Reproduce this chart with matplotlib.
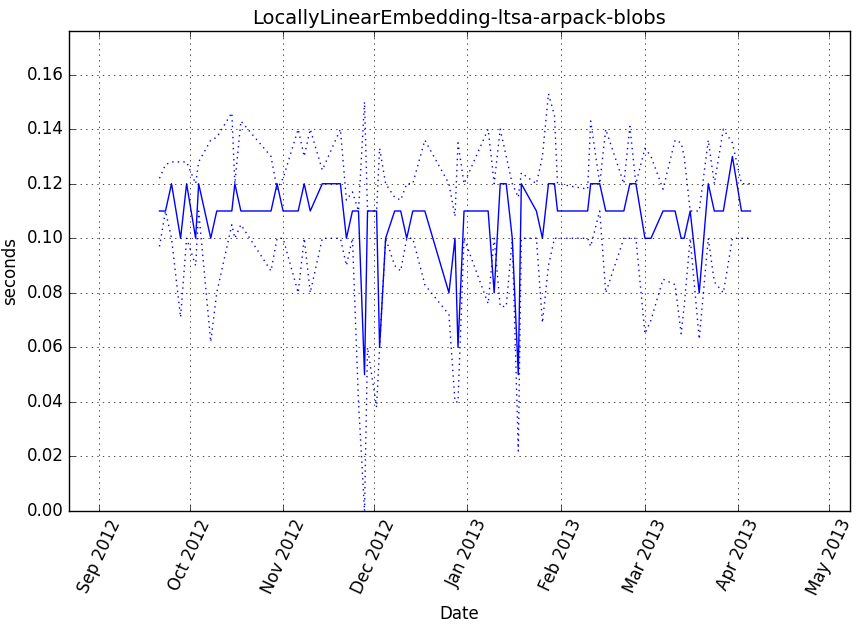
import matplotlib
matplotlib.use("Agg")
import matplotlib.pyplot as plt
import matplotlib.dates as mdates
import numpy as np
from datetime import datetime, timedelta

dates = ["2012-09-21","2012-09-23","2012-09-25","2012-09-28","2012-09-30",
 "2012-10-03","2012-10-04","2012-10-08","2012-10-10","2012-10-15","2012-10-16","2012-10-18","2012-10-28","2012-10-30",
 "2012-11-01","2012-11-06","2012-11-08","2012-11-10","2012-11-14","2012-11-20","2012-11-22","2012-11-24","2012-11-26","2012-11-28","2012-11-29",
 "2012-12-02","2012-12-03","2012-12-05","2012-12-08","2012-12-10","2012-12-12","2012-12-14","2012-12-18","2012-12-26","2012-12-28","2012-12-29","2012-12-31",
 "2013-01-08","2013-01-10","2013-01-12","2013-01-14","2013-01-16","2013-01-18","2013-01-19","2013-01-24","2013-01-26","2013-01-28","2013-01-30","2013-01-31",
 "2013-02-10","2013-02-11","2013-02-14","2013-02-16","2013-02-22","2013-02-24","2013-02-26",
 "2013-03-01","2013-03-03","2013-03-07","2013-03-11","2013-03-13","2013-03-14","2013-03-16","2013-03-19","2013-03-22","2013-03-24","2013-03-27","2013-03-30",
 "2013-04-02","2013-04-05"]
median = [0.11,0.11,0.12,0.10,0.12,0.10,0.12,0.10,0.11,0.11,
 0.12,0.11,0.11,0.12,0.11,0.11,0.12,0.11,0.12,0.12,
 0.10,0.11,0.11,0.05,0.11,0.11,0.06,0.10,0.11,0.11,
 0.10,0.11,0.11,0.08,0.10,0.06,0.11,0.11,0.08,0.12,
 0.12,0.10,0.05,0.12,0.11,0.10,0.12,0.12,0.11,0.11,
 0.12,0.12,0.11,0.11,0.12,0.12,0.10,0.10,0.11,0.11,
 0.10,0.10,0.11,0.08,0.12,0.11,0.11,0.13,0.11,0.11]
upper = [0.122,0.127,0.128,0.128,0.128,0.120,0.128,0.136,0.137,0.146,
 0.120,0.143,0.130,0.118,0.122,0.140,0.130,0.140,0.125,0.140,
 0.114,0.117,0.110,0.150,0.110,0.110,0.133,0.120,0.115,0.114,
 0.120,0.120,0.136,0.120,0.108,0.135,0.120,0.140,0.120,0.140,
 0.130,0.120,0.115,0.124,0.120,0.130,0.153,0.145,0.120,0.118,
 0.143,0.120,0.140,0.120,0.141,0.120,0.133,0.130,0.118,0.136,
 0.135,0.130,0.110,0.110,0.136,0.120,0.140,0.135,0.120,0.120]
lower = [0.097,0.110,0.100,0.071,0.100,0.090,0.110,0.062,0.080,0.105,
 0.100,0.105,0.088,0.100,0.100,0.080,0.100,0.080,0.100,0.100,
 0.090,0.100,0.040,0.000,0.060,0.038,0.060,0.100,0.090,0.088,
 0.100,0.100,0.083,0.072,0.040,0.040,0.100,0.076,0.100,0.075,
 0.075,0.100,0.022,0.100,0.100,0.069,0.090,0.100,0.100,0.100,
 0.097,0.110,0.080,0.100,0.100,0.100,0.065,0.070,0.085,0.083,
 0.065,0.075,0.100,0.063,0.100,0.084,0.080,0.100,0.100,0.100]

plt.style.use("classic")
x = [datetime.strptime(d, "%Y-%m-%d") for d in dates]
fig = plt.figure(figsize=(8.65, 6.26), dpi=100, facecolor="white")
ax = fig.add_axes([69/865, 1-511/626, (850-69)/865, (511-31)/626])
ax.plot(x, median, "b-")
ax.plot(x, upper, "b:")
ax.plot(x, lower, "b:")
ax.set_xlim(datetime(2012, 8, 22), datetime(2013, 5, 8))
ax.set_ylim(0, 0.176)
ax.set_yticks(np.arange(0, 0.17, 0.02))
ax.xaxis.set_major_locator(mdates.MonthLocator())
ax.xaxis.set_major_formatter(mdates.DateFormatter("%b %Y"))
for lab in ax.get_xticklabels():
    lab.set_rotation(65)
ax.grid(True)
ax.set_title("LocallyLinearEmbedding-ltsa-arpack-blobs", fontsize=14)
ax.set_xlabel("Date", fontsize=12)
ax.set_ylabel("seconds", fontsize=12)
ax.tick_params(labelsize=12)
fig.savefig("out.png", dpi=100, facecolor="white")
